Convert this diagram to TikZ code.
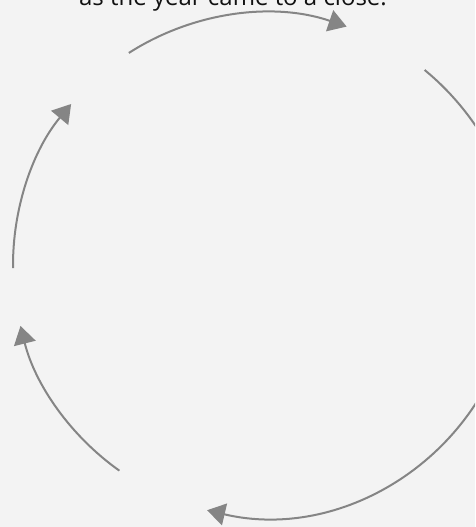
\documentclass[tikz,border=0pt]{standalone}
\usepackage{fontspec}
\setmainfont{Open Sans}
\usetikzlibrary{arrows.meta}
\definecolor{cybg}{HTML}{F3F3F3}
\definecolor{cyline}{HTML}{858585}
\definecolor{cytext}{HTML}{111111}
\tikzset{
  cyarc/.style = {-{Triangle[length=18pt,width=22pt]}, draw=cyline,
                  line width=2pt},
  lbl/.style   = {font=\fontsize{24}{29}\selectfont, text=cytext, inner sep=0pt,
                  anchor=base},
}

\begin{document}
\begin{tikzpicture}[x=1pt,y=1pt]
  \clip (0,0) rectangle (475,527);
  \fill[cybg] (0,0) rectangle (475,527);
  \coordinate (ctr) at (265,262);
  \node[lbl] (title) at (233,521) {as the year came to a close.};
  % clockwise arcs round the cycle
  \foreach \s/\e in {180.7/140.3, 122.7/71.1, 50.7/5, -15/-103.3, -125.3/-166}{
    \draw[cyarc] (ctr) ++(\s:252) arc[start angle=\s, end angle=\e, radius=252];
  }
\end{tikzpicture}
\end{document}
